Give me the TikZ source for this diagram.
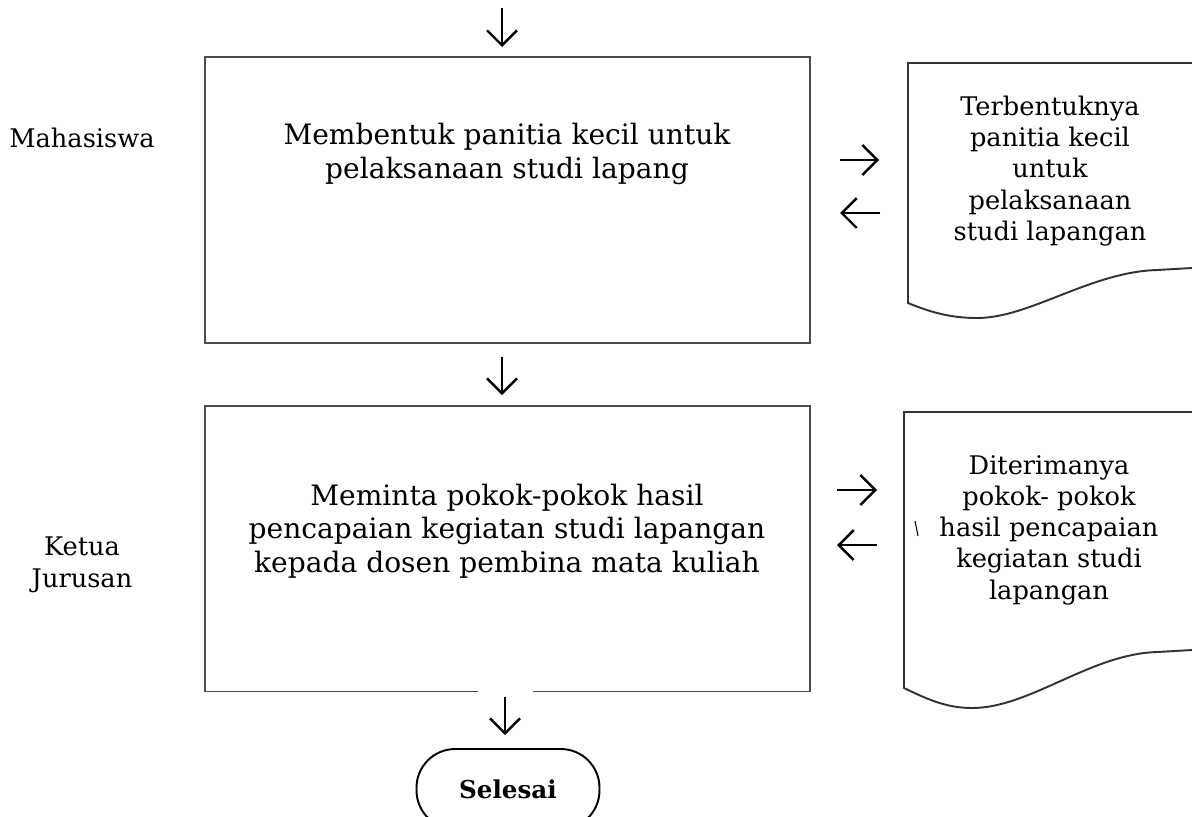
\documentclass[tikz,border=0pt]{standalone}
\usepackage{fontspec}
\setmainfont{DejaVu Serif}
\usepackage{tikz}
\usetikzlibrary{arrows.meta}
\tikzset{
  font={\fontsize{16pt}{19pt}\selectfont}}

\begin{document}
\begin{tikzpicture}[x=0.02cm, y=-0.02cm, main/.style = {draw=black!70, line width=1.1pt, minimum width=12.1cm, minimum height=5.72cm}, arr/.style = {-{Straight Barb[length=8.5pt, width=17pt]}, line width=1.4pt}, doc/.style = {draw=black!80, line width=1.1pt}, small/.style = {align=center, font={\fontsize{14.6pt}{17.8pt}\selectfont}}, lbl/.style = {align=center, font={\fontsize{14.6pt}{18pt}\selectfont}}]
\useasboundingbox (0,0) rectangle (1192,816);
\node[main] (1) at (507.5,200) {};
\node[main] (2) at (507.5,548.5) {};
\fill[white] (478,688) rectangle (533,697);
\node[align=center] (t1) at (507,154) {Membentuk panitia kecil untuk\\pelaksanaan studi lapang};
\node[align=center] (t2) at (507,531) {Meminta pokok-pokok hasil\\pencapaian kegiatan studi lapangan\\kepada dosen pembina mata kuliah};
\node[lbl] (m) at (82,138) {Mahasiswa};
\node[lbl] (k) at (82,565) {Ketua\\Jurusan};

\draw[doc] (1192,63) -- (908,63) -- (908,303) .. controls (930,312) and (950,318) .. (977,318) .. controls (1030,318) and (1090,272) .. (1157,270) -- (1192,268);
\draw[doc] (1192,412) -- (904,412) -- (904,688) .. controls (925,698) and (945,708) .. (972,708) .. controls (1030,708) and (1090,654) .. (1157,652) -- (1192,650);
\draw[line width=0.6pt] (915,521) -- (918,536);
\node[small] (3) at (1050,171) {Terbentuknya\\panitia kecil\\untuk\\pelaksanaan\\studi lapangan};
\node[small] (4) at (1049,530) {Diterimanya\\pokok- pokok\\hasil pencapaian\\kegiatan studi\\lapangan};
\node[draw, line width=1.1pt, rounded corners=22pt, minimum width=3.66cm, minimum height=1.6cm, font={\fontsize{14pt}{17pt}\selectfont}] (5) at (508,789) {\textbf{Selesai}};

\coordinate (in1) at (502,8);
\coordinate (in2) at (502,47);
\coordinate (mid1) at (502,357);
\coordinate (mid2) at (502,395);
\coordinate (out1) at (505,697);
\coordinate (out2) at (505,735);
\coordinate (r1) at (840,160);
\coordinate (r2) at (879,160);
\coordinate (l1) at (880,213);
\coordinate (l2) at (840,213);
\coordinate (r3) at (837,490);
\coordinate (r4) at (877,490);
\coordinate (l3) at (877,545);
\coordinate (l4) at (837,545);
\draw[arr] (in1) -- (in2);
\draw[arr] (mid1) -- (mid2);
\draw[arr] (out1) -- (out2);
\draw[arr] (r1) -- (r2);
\draw[arr] (l1) -- (l2);
\draw[arr] (r3) -- (r4);
\draw[arr] (l3) -- (l4);
\end{tikzpicture}
\end{document}
